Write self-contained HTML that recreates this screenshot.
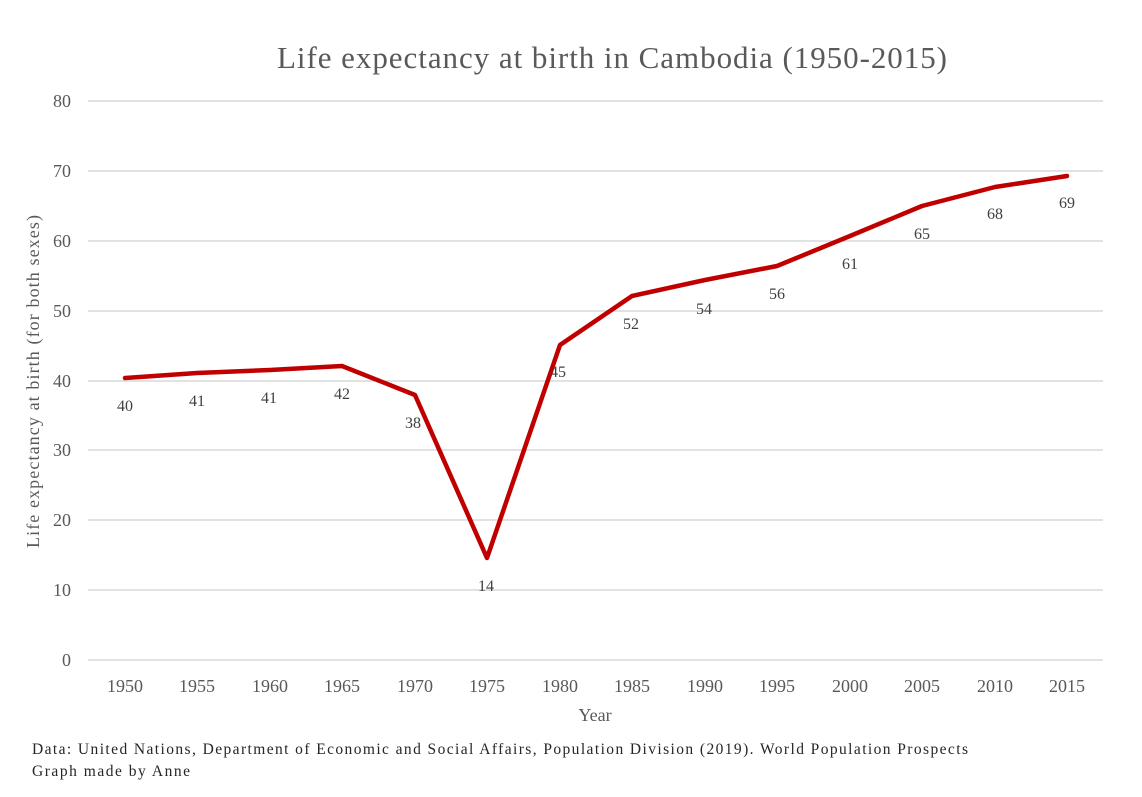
<!DOCTYPE html>
<html><head><style>
body{margin:0;background:#fff}
svg{display:block}
text{font-family:"Liberation Serif",serif}
</style></head><body>
<svg width="1142" height="797" viewBox="0 0 1142 797" xmlns="http://www.w3.org/2000/svg">
<rect width="1142" height="797" fill="#fff"/>
<text x="277" y="68" font-size="31" fill="#595959" textLength="670" lengthAdjust="spacing">Life expectancy at birth in Cambodia (1950-2015)</text>
<g stroke="#d0d0d0" stroke-width="1.3">
<line x1="88" x2="1103" y1="101" y2="101"/><line x1="88" x2="1103" y1="171" y2="171"/>
<line x1="88" x2="1103" y1="241" y2="241"/><line x1="88" x2="1103" y1="311" y2="311"/>
<line x1="88" x2="1103" y1="381" y2="381"/><line x1="88" x2="1103" y1="450" y2="450"/>
<line x1="88" x2="1103" y1="520" y2="520"/><line x1="88" x2="1103" y1="590" y2="590"/>
<line x1="88" x2="1103" y1="660" y2="660"/>
</g>
<g font-size="18" fill="#595959" text-anchor="end">
<text x="71" y="107">80</text><text x="71" y="177">70</text><text x="71" y="247">60</text>
<text x="71" y="317">50</text><text x="71" y="387">40</text><text x="71" y="456">30</text>
<text x="71" y="526">20</text><text x="71" y="596">10</text><text x="71" y="666">0</text>
</g>
<g font-size="18" fill="#595959" text-anchor="middle">
<text x="125" y="692">1950</text><text x="197" y="692">1955</text><text x="270" y="692">1960</text>
<text x="342" y="692">1965</text><text x="415" y="692">1970</text><text x="487" y="692">1975</text>
<text x="560" y="692">1980</text><text x="632" y="692">1985</text><text x="705" y="692">1990</text>
<text x="777" y="692">1995</text><text x="850" y="692">2000</text><text x="922" y="692">2005</text>
<text x="995" y="692">2010</text><text x="1067" y="692">2015</text>
</g>
<text x="595" y="721" font-size="18" fill="#595959" text-anchor="middle">Year</text>
<text transform="translate(39,548) rotate(-90)" font-size="18" fill="#595959" textLength="333" lengthAdjust="spacing">Life expectancy at birth (for both sexes)</text>
<polyline fill="none" stroke="#c00000" stroke-width="4.5" stroke-linejoin="round" stroke-linecap="round"
points="125,378 197,373 270,370 342,366 415,395 487,558 560,345 632,296 705,280 777,266 850,236 922,206 995,187 1067,176"/>
<g font-size="16" fill="#404040" text-anchor="middle">
<text x="125" y="411">40</text><text x="197" y="406">41</text><text x="269" y="403">41</text>
<text x="342" y="399">42</text><text x="413" y="428">38</text><text x="486" y="591">14</text>
<text x="558" y="377">45</text><text x="631" y="329">52</text><text x="704" y="314">54</text>
<text x="777" y="299">56</text><text x="850" y="269">61</text><text x="922" y="239">65</text>
<text x="995" y="219">68</text><text x="1067" y="208">69</text>
</g>
<g font-size="15.5" fill="#262626">
<text x="32" y="754" textLength="936" lengthAdjust="spacing">Data: United Nations, Department of Economic and Social Affairs, Population Division (2019). World Population Prospects</text>
<text x="32" y="776" textLength="158" lengthAdjust="spacing">Graph made by Anne</text>
</g>
</svg>
</body></html>
